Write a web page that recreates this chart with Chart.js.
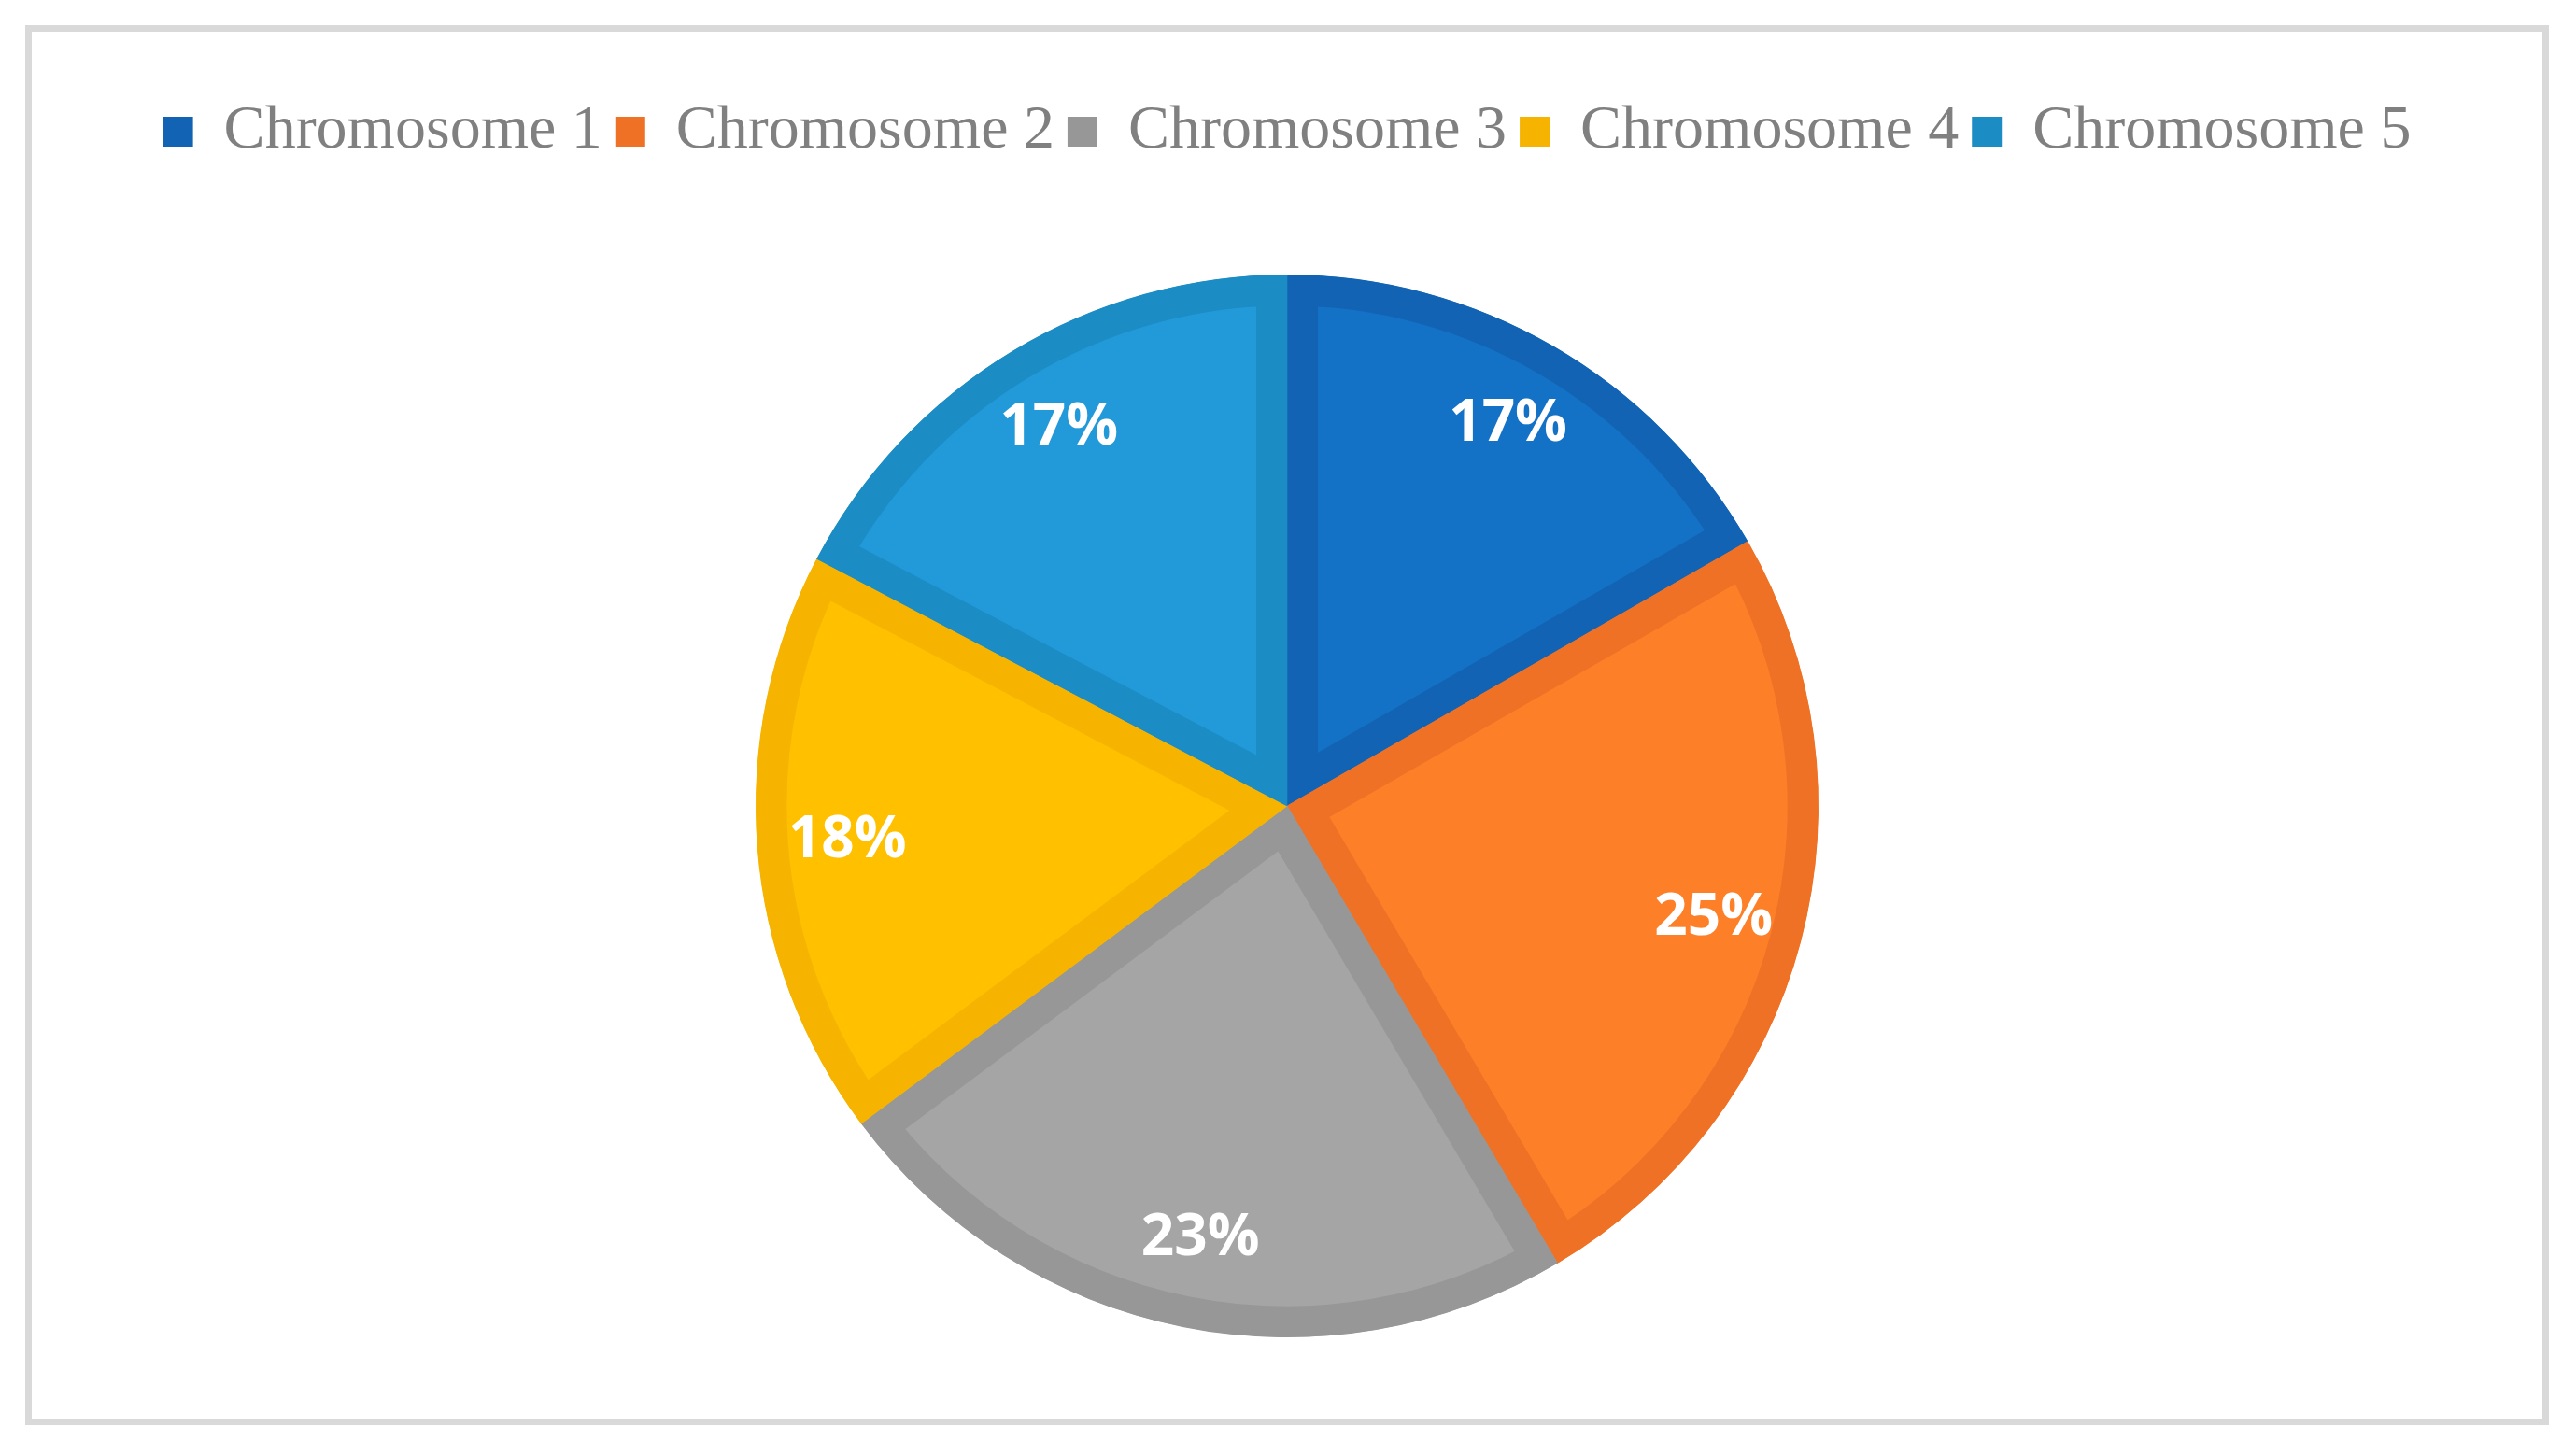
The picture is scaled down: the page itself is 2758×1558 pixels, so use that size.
<!DOCTYPE html>
<html>
<head>
<meta charset="utf-8">
<script src="https://cdn.jsdelivr.net/npm/chart.js@4/dist/chart.umd.min.js"></script>
<style>
  html, body { margin: 0; padding: 0; background: #ffffff; }
  body { width: 2758px; height: 1558px; position: relative; overflow: hidden; }
  #frame { position: absolute; left: 27px; top: 27px; width: 2688px; height: 1485px; border: 7px solid #d9d9d9; background: #fff; }
  #wrap { position: absolute; left: 0; top: 0; width: 2688px; height: 1485px; }
</style>
</head>
<body>
<div id="frame"><div id="wrap"><canvas id="c"></canvas></div></div>
<script>
const categories = ['Chromosome 1', 'Chromosome 2', 'Chromosome 3', 'Chromosome 4', 'Chromosome 5'];
const shares = [16.7, 24.8, 23.3, 17.9, 17.3];
const fillColors = ['#1372C6', '#FD7F27', '#A5A5A5', '#FFC000', '#2299D8'];
const edgeColors = ['#1263B4', '#EF7125', '#979797', '#F6B400', '#1B8CC4'];

const sliceLabels = {
  id: 'sliceLabels',
  afterDatasetsDraw(chart) {
    const ctx = chart.ctx;
    const meta = chart.getDatasetMeta(0);
    ctx.save();
    ctx.fillStyle = '#ffffff';
    ctx.font = 'bold 62px "Open Sans", Lato, sans-serif';
    ctx.textAlign = 'center';
    ctx.textBaseline = 'middle';
    meta.data.forEach((arc, i) => {
      const p = arc.getProps(['x', 'y', 'startAngle', 'endAngle', 'outerRadius'], true);
      const mid = (p.startAngle + p.endAngle) / 2;
      const r = p.outerRadius * 0.83;
      ctx.fillText(Math.round(shares[i]) + '%', p.x + Math.cos(mid) * r, p.y + Math.sin(mid) * r);
    });
    ctx.restore();
  }
};

const legendSpace = {
  id: 'legendSpace',
  beforeInit(chart) {
    const orig = chart.legend.fit;
    chart.legend.fit = function () {
      orig.call(this);
      this.height += 110;
    };
  }
};

new Chart(document.getElementById('c'), {
  type: 'pie',
  data: {
    labels: categories,
    datasets: [{
      data: shares,
      backgroundColor: fillColors,
      borderColor: edgeColors,
      borderWidth: 33,
      borderAlign: 'inner',
      borderJoinStyle: 'miter',
      hoverOffset: 0
    }]
  },
  options: {
    responsive: true,
    maintainAspectRatio: false,
    animation: false,
    layout: { padding: { top: 60, bottom: 87 } },
    plugins: {
      tooltip: { enabled: false },
      legend: {
        position: 'top',
        labels: {
          color: '#808080',
          font: { family: '"Liberation Serif", "Times New Roman", serif', size: 66 },
          boxWidth: 32,
          boxHeight: 32,
          padding: 14,
          generateLabels(chart) {
            return categories.map((name, i) => ({
              text: name,
              fillStyle: edgeColors[i],
              strokeStyle: edgeColors[i],
              lineWidth: 0,
              hidden: false,
              index: i,
              fontColor: '#808080'
            }));
          }
        }
      }
    }
  },
  plugins: [legendSpace, sliceLabels]
});
</script>
</body>
</html>
